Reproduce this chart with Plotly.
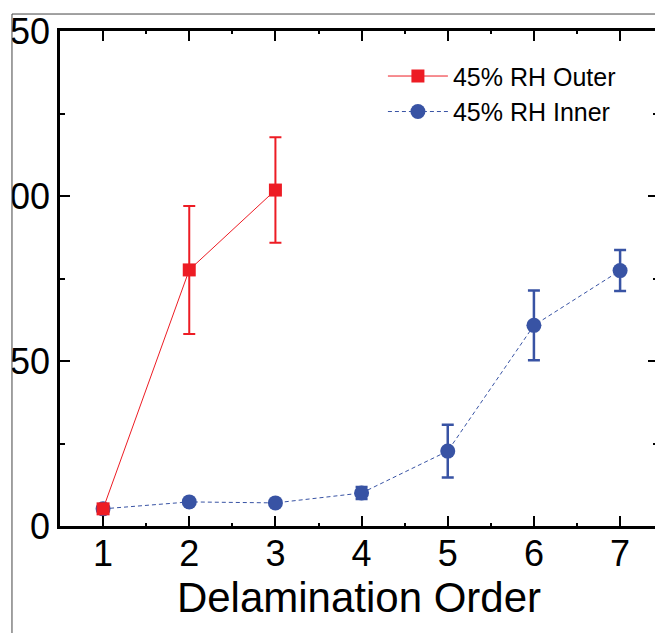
import plotly.graph_objects as go

order = [1, 2, 3, 4, 5, 6, 7]
outer_x = [1, 2, 3]
outer_y = [5.2, 77.6, 101.8]
outer_err = [0, 19.4, 16.0]
inner_y = [5.2, 7.3, 7.0, 10.0, 22.7, 60.8, 77.4]
inner_err = [0, 0, 0, 1.8, 8.0, 10.6, 6.2]
y_ticks = [0, 50, 100, 150]

RED = "#ED1C24"
BLUE = "#3853A4"
FONT = "Liberation Sans, Arial, sans-serif"

fig = go.Figure()
fig.add_trace(go.Scatter(
    x=order, y=inner_y, name="45% RH Inner", mode="lines+markers",
    line=dict(color=BLUE, width=1, dash="4px,3px"),
    marker=dict(symbol="circle", size=15, color=BLUE),
    error_y=dict(type="data", array=inner_err, color=BLUE, thickness=2.5, width=6),
))
fig.add_trace(go.Scatter(
    x=outer_x, y=outer_y, name="45% RH Outer", mode="lines+markers",
    line=dict(color=RED, width=1),
    marker=dict(symbol="square", size=13, color=RED),
    error_y=dict(type="data", array=outer_err, color=RED, thickness=2, width=6),
))

axis_common = dict(
    showline=True, linecolor="black", linewidth=2.5, mirror="ticks",
    ticks="inside", ticklen=10, tickwidth=2, tickcolor="black",
    showgrid=False, zeroline=False,
    tickfont=dict(family=FONT, size=36, color="black"),
)

fig.update_xaxes(
    **axis_common, range=[0.5, 7.44], tickvals=order, ticklabelstandoff=-6,
    minor=dict(ticks="inside", ticklen=3, tickwidth=1.5, dtick=0.5, tick0=0.5, showgrid=False),
    title=dict(text="Delamination Order", font=dict(family=FONT, size=42, color="black"), standoff=4),
)
fig.update_yaxes(
    **axis_common, range=[0, 150], tickvals=y_ticks,
    minor=dict(ticks="inside", ticklen=5, tickwidth=1.5, dtick=25, tick0=0, showgrid=False),
)

# figure frame (thin border of cropped figure) and white mask hiding the clipped part
fig.add_shape(type="rect", xref="paper", yref="paper", x0=-0.3, x1=-0.0803, y0=-0.3, y1=1.2,
              fillcolor="white", line=dict(width=0), layer="above")
fig.add_shape(type="line", xref="paper", yref="paper", x0=-0.0803, x1=1.05, y0=1.0343, y1=1.0343,
              line=dict(color="#444444", width=1), layer="above")
fig.add_shape(type="line", xref="paper", yref="paper", x0=-0.0803, x1=-0.0803, y0=-0.3, y1=1.0343,
              line=dict(color="#444444", width=1), layer="above")

fig.update_layout(
    width=655, height=625,
    margin=dict(l=52, r=5, t=23, b=107, autoexpand=False),
    paper_bgcolor="white", plot_bgcolor="white",
    font=dict(family=FONT, color="black"),
    legend=dict(x=0.54, y=0.955, xanchor="left", yanchor="top",
                font=dict(family=FONT, size=25, color="black"),
                bgcolor="rgba(0,0,0,0)", traceorder="reversed", itemwidth=60),
    showlegend=True,
)

fig.write_html("out.html")
